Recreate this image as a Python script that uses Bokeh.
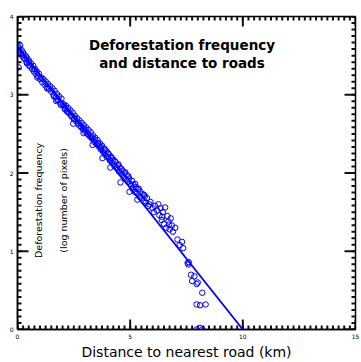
import math
from bokeh.plotting import figure
from bokeh.models import Range1d, SingleIntervalTicker, Label
from bokeh.embed import file_html
from bokeh.resources import INLINE

# Distance to nearest road (km) and log deforestation frequency
dist_km = [
    0.02, 0.05, 0.08, 0.10, 0.12, 0.15, 0.18, 0.20, 0.05, 0.25,
    0.28, 0.30, 0.35, 0.38, 0.40, 0.45, 0.50, 0.52, 0.55, 0.60,
    0.65, 0.70, 0.72, 0.78, 0.80, 0.85, 0.90, 0.95, 1.00,
    1.05, 1.10, 1.15, 1.20, 1.25, 1.30, 1.35, 1.40, 1.45, 1.50,
    1.55, 1.60, 1.65, 1.70, 1.75, 1.80, 1.85, 1.90, 1.95, 2.00,
    2.05, 2.10, 2.15, 2.20, 2.25, 2.30, 2.35, 2.40, 2.45, 2.50,
    2.55, 2.60, 2.65, 2.70, 2.75, 2.80, 2.85, 2.90, 2.95, 3.00,
    3.05, 3.10, 3.15, 3.20, 3.25, 3.30, 3.35, 3.40, 3.45, 3.50,
    3.55, 3.60, 3.65, 3.70, 3.75, 3.80, 3.85, 3.90, 3.95, 4.00,
    4.05, 4.10, 4.15, 4.20, 4.25, 4.30, 4.35, 4.40, 4.45, 4.50,
    4.55, 4.60, 4.65, 4.70, 4.75, 4.80, 4.85, 4.90, 4.95, 5.00,
    5.05, 5.10, 5.15, 5.20, 5.25, 5.30, 5.35, 5.40, 5.45, 5.50,
    5.55, 5.60, 5.65, 5.70, 5.75, 5.80, 5.90, 6.00,
    6.10, 6.20, 6.25, 6.30, 6.35, 6.40, 6.45, 6.50, 6.55, 6.60,
    6.65, 6.70, 6.75, 6.80, 6.85, 6.90, 7.00, 7.10, 7.20, 7.30, 7.35,
    7.55, 7.58, 7.60, 7.70, 7.75, 7.85, 7.95, 8.00, 8.20, 7.95,
    8.10, 8.35, 7.95, 8.10, 8.20,
    1.62, 1.78, 1.92, 2.08, 2.22, 2.38, 2.52, 2.68, 2.82, 2.98,
    3.12, 3.28, 3.42, 3.58, 3.72, 3.88, 4.02, 4.18, 4.32, 4.48,
    4.62, 4.78, 4.92, 5.08, 5.22, 5.38,
    0.42, 0.88, 1.32, 1.72, 2.12, 2.47, 2.93, 3.33, 3.77, 4.12,
    4.57, 4.97, 5.32, 5.62, 5.85, 6.05, 6.42, 6.72,
]
log_freq = [
    3.62, 3.58, 3.60, 3.55, 3.63, 3.52, 3.57, 3.50, 3.35, 3.54,
    3.47, 3.51, 3.45, 3.49, 3.42, 3.46, 3.38, 3.43, 3.36, 3.40,
    3.33, 3.37, 3.30, 3.33, 3.27, 3.30, 3.24, 3.27, 3.20,
    3.22, 3.16, 3.20, 3.13, 3.17, 3.10, 3.14, 3.07, 3.11, 3.04,
    3.08, 3.00, 3.05, 2.97, 3.01, 2.94, 2.98, 2.90, 2.95, 2.87,
    2.88, 2.82, 2.86, 2.79, 2.83, 2.76, 2.80, 2.72, 2.77, 2.69,
    2.73, 2.66, 2.70, 2.62, 2.67, 2.60, 2.64, 2.56, 2.61, 2.53,
    2.58, 2.50, 2.55, 2.47, 2.52, 2.44, 2.48, 2.40, 2.45, 2.37,
    2.42, 2.34, 2.38, 2.30, 2.35, 2.27, 2.31, 2.23, 2.28, 2.20,
    2.24, 2.16, 2.21, 2.13, 2.17, 2.09, 2.14, 2.06, 2.10, 2.02,
    2.07, 1.99, 2.03, 1.95, 2.00, 1.92, 1.97, 1.89, 1.93, 1.86,
    1.84, 1.80, 1.85, 1.76, 1.82, 1.74, 1.79, 1.70, 1.76, 1.68,
    1.73, 1.64, 1.70, 1.62, 1.68, 1.58, 1.63, 1.55,
    1.58, 1.52, 1.60, 1.46, 1.55, 1.40, 1.50, 1.35, 1.56, 1.30,
    1.45, 1.38, 1.28, 1.42, 1.33, 1.25, 1.30, 1.15, 1.08, 1.12, 1.04,
    0.85, 0.83, 0.86, 0.70, 0.62, 0.68, 0.58, 0.60, 0.47, 0.32,
    0.31, 0.32, 0.00, 0.02, 0.00,
    2.98, 2.93, 2.87, 2.85, 2.78, 2.74, 2.70, 2.64, 2.59, 2.56,
    2.50, 2.46, 2.43, 2.38, 2.33, 2.30, 2.25, 2.19, 2.15, 2.11,
    2.05, 2.01, 1.96, 1.90, 1.86, 1.80,
    3.40, 3.22, 3.08, 2.92, 2.81, 2.63, 2.51, 2.36, 2.19, 2.07,
    1.88, 1.76, 1.66, 1.72, 1.60, 1.50, 1.44, 1.34,
]
# fitted regression line end points
fit_x = [0.0, 10.0]
fit_y = [3.62, 0.0]

x_major = [0.0, 5.0, 10.0, 15.0]
y_major = [0.0, 1.0, 2.0, 3.0, 4.0]
x_minor = [i * 0.25 for i in range(61)]
y_minor = [i / 12 for i in range(49)]

title_lines = ["Deforestation frequency", "and distance to roads"]
y_label_lines = ["Deforestation frequency", "(log number of pixels)"]
x_label = "Distance to nearest road (km)"

BLUE = "#0000ff"
TICK = "#111111"
X0, X1, Y0, Y1 = 0.0, 15.0, 0.0, 4.0
W, H = 361, 362
BL, BR, BT, BB = 17, 6, 16, 30
XPX = (X1 - X0) / (W - BL - BR)   # data units per screen pixel
YPX = (Y1 - Y0) / (H - BT - BB)

p = figure(width=W, height=H, x_range=Range1d(X0, X1), y_range=Range1d(Y0, Y1),
           output_backend="svg", toolbar_location=None,
           min_border_left=BL, min_border_right=BR, min_border_top=BT, min_border_bottom=BB)
p.xgrid.grid_line_color = None
p.ygrid.grid_line_color = None
p.outline_line_color = "black"
p.outline_line_width = 1.5

p.xaxis.ticker = SingleIntervalTicker(interval=5, num_minor_ticks=20)
p.yaxis.ticker = SingleIntervalTicker(interval=1, num_minor_ticks=12)
for ax in (p.xaxis[0], p.yaxis[0]):
    ax.major_tick_in = 0
    ax.major_tick_out = 0
    ax.minor_tick_in = 0
    ax.minor_tick_out = 0
    ax.major_tick_line_color = None
    ax.minor_tick_line_color = None
    ax.axis_line_color = "black"
    ax.axis_line_width = 1.5
    ax.major_label_text_font = "DejaVu Sans"
    ax.major_label_text_color = "black"
    ax.major_label_text_font_size = "6px"
    ax.major_label_standoff = 4
p.xaxis.axis_label = x_label
p.xaxis.axis_label_text_font = "DejaVu Sans"
p.xaxis.axis_label_text_font_style = "normal"
p.xaxis.axis_label_text_font_size = "14px"
p.xaxis.axis_label_text_color = "black"
p.xaxis.axis_label_standoff = 2

# inward tick marks on all four edges
for pos, ln in [(x_major, 10), (x_minor, 4)]:
    n = len(pos)
    p.segment(x0=pos, y0=[Y1] * n, x1=pos, y1=[Y1 - ln * YPX] * n,
              line_color=TICK, line_width=2)
    p.segment(x0=pos, y0=[Y0] * n, x1=pos, y1=[Y0 + ln * YPX] * n,
              line_color=TICK, line_width=2)
for pos, ln in [(y_major, 11), (y_minor, 4)]:
    n = len(pos)
    p.segment(x0=[X1] * n, y0=pos, x1=[X1 - ln * XPX] * n, y1=pos,
              line_color=TICK, line_width=2)
    p.segment(x0=[X0] * n, y0=pos, x1=[X0 + ln * XPX] * n, y1=pos,
              line_color=TICK, line_width=2)

p.line(fit_x, fit_y, line_color=BLUE, line_width=1.8)
p.scatter(dist_km, log_freq, marker="circle", size=5.5, fill_color=None,
          line_color=BLUE, line_width=1)

for txt, yy in zip(title_lines, [3.63, 3.41]):
    p.add_layout(Label(x=7.3, y=yy, text=txt, text_align="center", text_baseline="middle",
                       text_font="DejaVu Sans", text_font_style="bold",
                       text_font_size="13.5px", text_color="black"))

for txt, xx in zip(y_label_lines, [0.93, 2.04]):
    p.add_layout(Label(x=xx, y=1.65, text=txt, angle=math.pi / 2, text_align="center",
                       text_baseline="middle", text_font="DejaVu Sans",
                       text_font_size="9.5px", text_color="black"))

open("out.html", "w").write(file_html(p, INLINE))
